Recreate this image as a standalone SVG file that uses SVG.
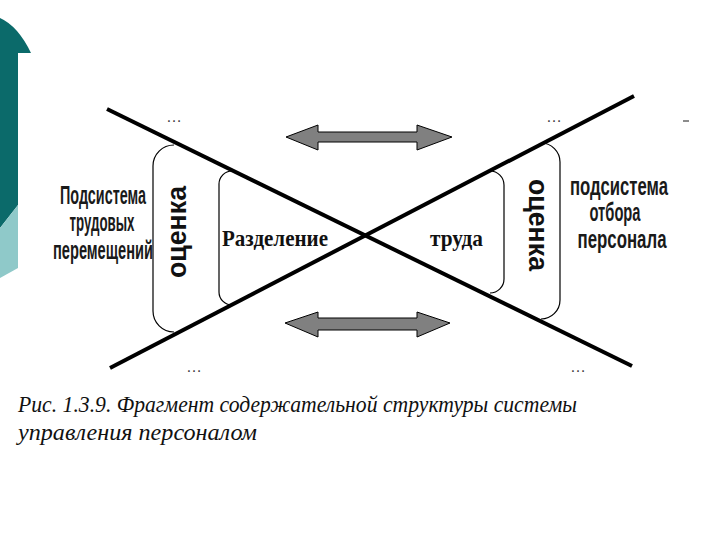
<svg xmlns="http://www.w3.org/2000/svg" width="720" height="540" viewBox="0 0 720 540">
<style>
.lbl{font-family:"Liberation Sans",Arial,sans-serif;font-size:25px;font-weight:bold;fill:#1a1a1a;text-anchor:middle}
.rot{font-family:"Liberation Sans",Arial,sans-serif;font-size:28px;font-weight:bold;fill:#111;text-anchor:middle}
.ctr{font-family:"Liberation Serif","Times New Roman",serif;font-size:23px;font-weight:bold;fill:#111}
.cap{font-family:"Liberation Serif","Times New Roman",serif;font-size:23px;font-style:italic;fill:#111}
.dots{font-family:"Liberation Sans",Arial,sans-serif;font-size:16px;fill:#444;text-anchor:middle}
.brk{fill:none;stroke:#000;stroke-width:1.2}
.xl{stroke:#000;stroke-width:4;stroke-linecap:butt}
.arr{fill:#808080;stroke:#000;stroke-width:1}
</style>
<rect width="720" height="540" fill="#fff"/>
<g id="decor">
<path d="M0,18 Q18,26 31,53 L18,53 L18,205 L0,228 Z" fill="#0b6a6a"/>
<path d="M0,228 L18,205 L18,268 L0,278 Z" fill="#8fc9c9"/>
<line x1="683" y1="121" x2="689" y2="121" stroke="#666" stroke-width="1.5"/>
</g>
<g id="connectors">
<line class="xl" x1="107" y1="109" x2="632" y2="366"/>
<line class="xl" x1="110" y1="368" x2="634" y2="96"/>
<path id="arrow-top" class="arr" d="M286,137 L318,125 L318,132 L417,132 L417,125 L452,137 L417,150 L417,142 L318,142 L318,150 Z"/>
<path id="arrow-bottom" class="arr" d="M285,323 L318,312 L318,318 L417,318 L417,312 L450,323 L417,337 L417,330 L318,330 L318,337 Z"/>
</g>
<g id="bracket-left-outer">
<path class="brk" d="M174,145 A21 21 0 0 0 153,166 L153,311 A21 21 0 0 0 174,332"/>
<text class="rot" transform="translate(186,232) rotate(-90)" textLength="92" lengthAdjust="spacingAndGlyphs">оценка</text>
</g>
<g id="bracket-left-inner">
<path class="brk" d="M232,171 A13 13 0 0 0 219,184 L219,292 A13 13 0 0 0 232,305"/>
<text class="ctr" x="222" y="246" textLength="106" lengthAdjust="spacingAndGlyphs">Разделение</text>
</g>
<g id="bracket-right-inner">
<path class="brk" d="M490,171 A14 14 0 0 1 504,185 L504,279 A14 14 0 0 1 490,293"/>
<text class="ctr" x="430" y="246" textLength="53" lengthAdjust="spacingAndGlyphs">труда</text>
</g>
<g id="bracket-right-outer">
<path class="brk" d="M541,143 A19 19 0 0 1 560,162 L560,300 A19 19 0 0 1 541,319"/>
<text class="rot" transform="translate(529,225) rotate(90)" textLength="92" lengthAdjust="spacingAndGlyphs">оценка</text>
</g>
<g id="node-left">
<text class="lbl" x="103" y="204" textLength="86" lengthAdjust="spacingAndGlyphs">Подсистема</text>
<text class="lbl" x="102" y="231" textLength="65" lengthAdjust="spacingAndGlyphs">трудовых</text>
<text class="lbl" x="103" y="259" textLength="100" lengthAdjust="spacingAndGlyphs">перемещений</text>
</g>
<g id="node-right">
<text class="lbl" x="619" y="195" textLength="98" lengthAdjust="spacingAndGlyphs">подсистема</text>
<text class="lbl" x="615" y="221" textLength="51" lengthAdjust="spacingAndGlyphs">отбора</text>
<text class="lbl" x="622" y="248" textLength="89" lengthAdjust="spacingAndGlyphs">персонала</text>
</g>
<g id="ellipses">
<text class="dots" x="174" y="122">…</text>
<text class="dots" x="554" y="122">…</text>
<text class="dots" x="194" y="372">…</text>
<text class="dots" x="578" y="372">…</text>
</g>
<g id="caption">
<text class="cap" x="18" y="412" textLength="559" lengthAdjust="spacingAndGlyphs">Рис. 1.3.9. Фрагмент содержательной структуры системы</text>
<text class="cap" x="18" y="440" textLength="239" lengthAdjust="spacingAndGlyphs">управления персоналом</text>
</g>
</svg>
